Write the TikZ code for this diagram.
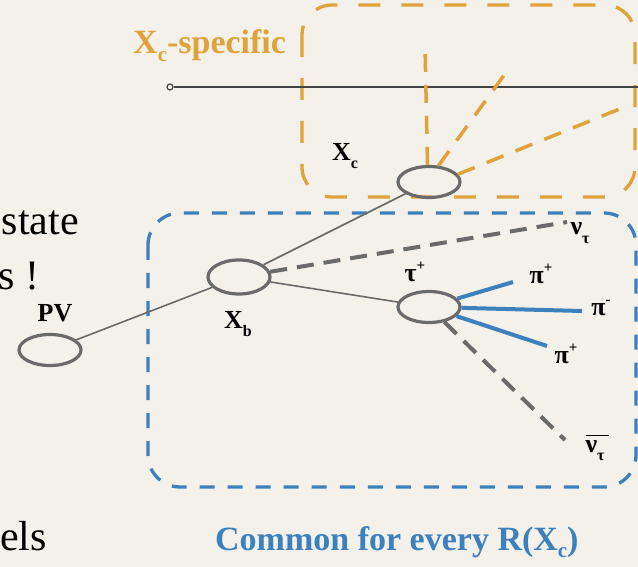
\documentclass[tikz,border=0pt]{standalone}
\usepackage{fontspec}
\setmainfont{Liberation Serif}
\usetikzlibrary{shapes.geometric}
\definecolor{bg}{HTML}{F3F1EA}
\definecolor{orng}{HTML}{E0A23A}
\definecolor{blu}{HTML}{3D80BE}
\definecolor{gry}{HTML}{6A6A6A}
\definecolor{dgry}{HTML}{444444}
\newcommand{\mysub}[1]{\raisebox{-0.32em}{\fontsize{16}{16}\selectfont #1}}
\newcommand{\mysup}[1]{\raisebox{0.45em}{\fontsize{15}{15}\selectfont #1}}
\newcommand{\bigsub}[1]{\raisebox{-0.22em}{\fontsize{21}{21}\selectfont #1}}
\begin{document}
\begin{tikzpicture}[x=1pt,y=-1pt,
 vtx/.style={ellipse,draw=gry,line width=3.2pt,minimum width=62pt,minimum height=31pt,inner sep=0pt},
 trk/.style={draw=gry,line width=1.6pt},
 neu/.style={draw=gry,line width=4pt,dash pattern=on 17pt off 10pt},
 pion/.style={draw=blu,line width=4pt},
 xcd/.style={draw=orng,line width=3.5pt,dash pattern=on 18pt off 13pt},
 boxb/.style={draw=blu,line width=3.3pt,dash pattern=on 15pt off 13pt,rounded corners=32pt},
 boxo/.style={draw=orng,line width=3.3pt,dash pattern=on 22pt off 21pt,rounded corners=30pt},
 lbl/.style={font=\fontsize{26}{28}\selectfont\bfseries,inner sep=0pt},
 big/.style={font=\fontsize{34}{36}\selectfont\bfseries,inner sep=0pt},
 slide/.style={font=\fontsize{42}{44}\selectfont,inner sep=0pt},
]
\fill[bg] (0,0) rectangle (638,567);
\useasboundingbox (0,0) rectangle (638,567);
\clip (0,0) rectangle (638,567);

% slide text fragments
\node[slide,anchor=base east] (t1) at (79,235) {state};
\node[slide,anchor=base east] (t2) at (40,290) {s !};
\node[slide,anchor=base west] (t3) at (0,550) {els};

% boxes
\draw[boxo] (302,5) rectangle (635,197);
\draw[boxb] (148,213) rectangle (636,487);

% horizontal line
\coordinate (hl) at (640,87);
\node[circle,draw=dgry,fill=bg,line width=1.2pt,minimum size=6pt,inner sep=0pt] (hc) at (170,87) {};
\draw[dgry,line width=1.8pt] (hc) -- (hl);

% vertices
\node[vtx] (PV) at (50,350) {};
\node[vtx,minimum height=34pt] (Xb) at (239,277) {};
\node[vtx] (Xc) at (429,182) {};
\node[vtx] (tau) at (429,307) {};

% Xc decay (orange)
\coordinate (o1) at (425,45);
\coordinate (o2) at (510,67);
\coordinate (o3) at (622,108);
\draw[xcd] (Xc.95) -- (o1);
\draw[xcd] (Xc.60) -- (o2);
\draw[xcd] (Xc.15) -- (o3);

% tracks
\draw[trk] (PV) -- (Xb);
\draw[trk] (Xb) -- (Xc);
\draw[trk] (Xb) -- (tau);

% neutrinos
\coordinate (n1) at (567,222);
\coordinate (n2) at (565,440);
\draw[neu] (Xb) -- (n1);
\draw[neu] (tau) -- (n2);

% pions
\coordinate (p1) at (513,282);
\coordinate (p2) at (582,311);
\coordinate (p3) at (547,346);
\draw[pion] (tau) -- (p1);
\draw[pion] (tau) -- (p2);
\draw[pion] (tau) -- (p3);

% labels
\node[lbl] (lPV) at (55,313) {PV};
\node[lbl] (lXb) at (238,324) {X\mysub{b}};
\node[lbl] (lXc) at (345,156) {X\mysub{c}};
\node[lbl] (ltau) at (415,272) {τ\mysup{+}};
\node[lbl] (lp1) at (541,274) {π\mysup{+}};
\node[lbl] (lp2) at (601,308) {π\mysup{-}};
\node[lbl] (lp3) at (566,354) {π\mysup{+}};
\node[lbl] (ln1) at (580,233) {ν\mysub{τ}};
\node[lbl] (ln2) at (595,448) {\rlap{\rule[0.62em]{0.9em}{1.3pt}}ν\mysub{τ}};

\node[big,text=orng,anchor=base west] (spec) at (133,54) {X\bigsub{c}-specific};
\node[big,text=blu,anchor=base west] (comm) at (215,550) {Common for every R(X\bigsub{c})};
\end{tikzpicture}
\end{document}
